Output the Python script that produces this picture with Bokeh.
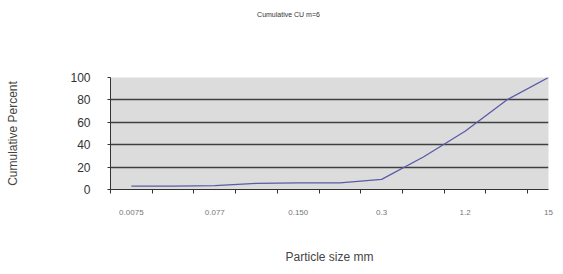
from bokeh.plotting import figure
from bokeh.models import FixedTicker, Div
from bokeh.layouts import column
from bokeh.embed import file_html
from bokeh.resources import INLINE

# Data
tick_labels = ["0.0075", "", "0.077", "", "0.150", "", "0.3", "", "1.2", "", "15"]
cumulative = [3, 3, 3.5, 5.5, 6, 6, 9, 29, 52, 80, 100]
y_ticks = [0, 20, 40, 60, 80, 100]
title_text = "Cumulative CU m=6"

idx = list(range(len(cumulative)))

title_div = Div(text=title_text, width=533, height=30, margin=(0, 0, 0, 22),
                styles={"text-align": "center", "font-family": "Liberation Sans",
                        "font-size": "7px", "line-height": "30px", "color": "#333333"})

p = figure(width=555, height=236, output_backend="svg", toolbar_location=None,
           x_range=(-0.5, 10.0), y_range=(0, 100), margin=(0, 0, 0, 0),
           min_border_left=110, min_border_right=7, min_border_top=47, min_border_bottom=77)

p.background_fill_color = "#dcdcdc"
p.border_fill_color = "white"
p.outline_line_color = None

p.line(idx, cumulative, line_color="#5a5aa8", line_width=1.3)

# x axis
xa = p.xaxis[0]
xa.ticker = FixedTicker(ticks=[i for i in idx if i % 2 == 0],
                        minor_ticks=[i - 0.5 for i in idx] + [idx[-1] + 0.5])
xa.major_label_overrides = {i: tick_labels[i] for i in idx}
xa.major_tick_line_color = None
xa.minor_tick_out = 4
xa.minor_tick_in = 0
xa.minor_tick_line_color = "#333333"
xa.axis_line_color = "#333333"
xa.major_label_standoff = 14
xa.major_label_text_font = "Liberation Sans"
xa.major_label_text_font_size = "8px"
xa.major_label_text_color = "#777777"
xa.axis_label = "Particle size mm"
xa.axis_label_text_font = "Liberation Sans"
xa.axis_label_text_font_size = "12px"
xa.axis_label_text_font_style = "normal"
xa.axis_label_text_color = "#444444"
xa.axis_label_standoff = 32

# y axis
ya = p.yaxis[0]
ya.ticker = FixedTicker(ticks=y_ticks)
ya.major_tick_out = 3
ya.major_tick_in = 0
ya.minor_tick_line_color = None
ya.major_tick_line_color = "#333333"
ya.axis_line_color = "#333333"
ya.major_label_standoff = 17
ya.major_label_text_font = "Liberation Sans"
ya.major_label_text_font_size = "12px"
ya.major_label_text_color = "#333333"
ya.axis_label = "Cumulative Percent"
ya.axis_label_text_font = "Liberation Sans"
ya.axis_label_text_font_size = "12px"
ya.axis_label_text_font_style = "normal"
ya.axis_label_text_color = "#444444"
ya.axis_label_standoff = 47

p.xgrid.grid_line_color = None
p.ygrid.ticker = FixedTicker(ticks=[20, 40, 60, 80])
p.ygrid.grid_line_color = "#404040"
p.ygrid.grid_line_width = 1.5

layout = column(title_div, p, spacing=0, margin=(0, 0, 0, 0))

open("out.html", "w").write(file_html(layout, INLINE))
